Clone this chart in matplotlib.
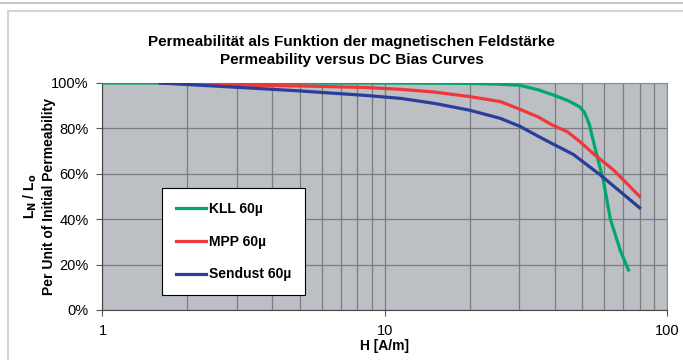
import numpy as np
import matplotlib
matplotlib.use("Agg")
import matplotlib.pyplot as plt
from matplotlib.ticker import FixedLocator, NullFormatter, FuncFormatter
from matplotlib.lines import Line2D

plt.rcParams['font.family'] = ['Liberation Sans', 'DejaVu Sans']

# values (H in A/m, L/L0 as fraction)
kll_h = [1, 10, 20, 25, 30, 35, 40, 45, 49, 51, 53, 55.8, 59.5, 63, 68.4, 73]
kll_v = [1.0, 1.0, 0.998, 0.995, 0.99, 0.97, 0.945, 0.92, 0.895, 0.87, 0.82, 0.705, 0.57, 0.40, 0.26, 0.176]

mpp_h = [1.6, 3.3, 5, 8.6, 11.4, 15, 20, 25.7, 30, 35, 39.6, 44.4, 49.3, 54.9, 64.6, 80]
mpp_v = [1.0, 0.99, 0.987, 0.98, 0.972, 0.96, 0.94, 0.918, 0.885, 0.85, 0.812, 0.785, 0.74, 0.688, 0.617, 0.50]

sen_h = [1.6, 3.3, 5, 8.6, 11.4, 15, 20, 25.7, 30, 35, 39.6, 46.6, 58, 80]
sen_v = [1.0, 0.978, 0.965, 0.945, 0.932, 0.91, 0.88, 0.844, 0.81, 0.765, 0.73, 0.685, 0.595, 0.45]

labels = ["KLL 60µ", "MPP 60µ", "Sendust 60µ"]
colors = ["#00a86b", "#f0373c", "#2a3d9a"]
y_ticks = [0, 0.2, 0.4, 0.6, 0.8, 1.0]

fig = plt.figure(figsize=(6.83, 3.6), dpi=100)
fig.patch.set_facecolor("white")

# thin page frame like the screenshot
fig.add_artist(Line2D([0, 1], [0.992, 0.992], color="#c8c8c8", lw=1.5))
fig.add_artist(Line2D([0.011, 0.011], [0, 0.97], color="#d4d4d4", lw=1.5))
fig.add_artist(Line2D([0.011, 1], [0.97, 0.97], color="#d4d4d4", lw=1.5))

ax = fig.add_axes([0.150, 0.139, 0.8266, 0.6305])
ax.set_facecolor("#bcbfc3")
ax.set_xscale("log")
ax.set_xlim(1, 100)
ax.set_ylim(0, 1.0)

minor = [v * d for d in (1, 10) for v in range(2, 10)]
ax.xaxis.set_minor_locator(FixedLocator(minor))
ax.xaxis.set_minor_formatter(NullFormatter())
ax.xaxis.set_major_locator(FixedLocator([1, 10, 100]))
ax.xaxis.set_major_formatter(FuncFormatter(lambda v, p: "%d" % v))
ax.yaxis.set_major_locator(FixedLocator(y_ticks))
ax.yaxis.set_major_formatter(FuncFormatter(lambda v, p: "%d%%" % round(v * 100)))

ax.grid(True, which="both", axis="x", color="#7a7d80", lw=0.9)
ax.grid(True, which="major", axis="y", color="#7a7d80", lw=0.9)
ax.tick_params(axis="x", which="minor", length=0)
ax.tick_params(axis="both", which="major", length=4, color="#555555",
               labelsize=10.5, pad=6)
for s in ("left", "bottom"):
    ax.spines[s].set_color("#444444")
for s in ("top", "right"):
    ax.spines[s].set_color("#8a8d90")

ax.plot(kll_h, kll_v, color=colors[0], lw=2.3, label=labels[0], zorder=3)
ax.plot(mpp_h, mpp_v, color=colors[1], lw=2.3, label=labels[1], zorder=3)
ax.plot(sen_h, sen_v, color=colors[2], lw=2.3, label=labels[2], zorder=3)

leg = ax.legend(loc="upper left", bbox_to_anchor=(0.105, 0.537), borderaxespad=0,
                fancybox=False, edgecolor="black", framealpha=1,
                prop={"weight": "bold", "size": 10},
                handlelength=2.2, handletextpad=0.2, labelspacing=1.35,
                borderpad=1.0)
leg.get_frame().set_linewidth(0.8)

ax.set_xlabel("H [A/m]", fontweight="bold", fontsize=10, labelpad=1)
fig.text(0.057, 0.455, "L$_\\mathbf{N}$ / L$_\\mathbf{o}$\nPer Unit of Initial Permeability",
         rotation=90, ha="center", va="center", fontweight="bold", fontsize=10,
         linespacing=1.25, multialignment="center")

fig.text(0.515, 0.882, "Permeabilität als Funktion der magnetischen Feldstärke",
         ha="center", va="center", fontsize=11, fontweight="bold")
fig.text(0.515, 0.832, "Permeability versus DC Bias Curves",
         ha="center", va="center", fontsize=11, fontweight="bold")

fig.savefig("out.png", dpi=100)
